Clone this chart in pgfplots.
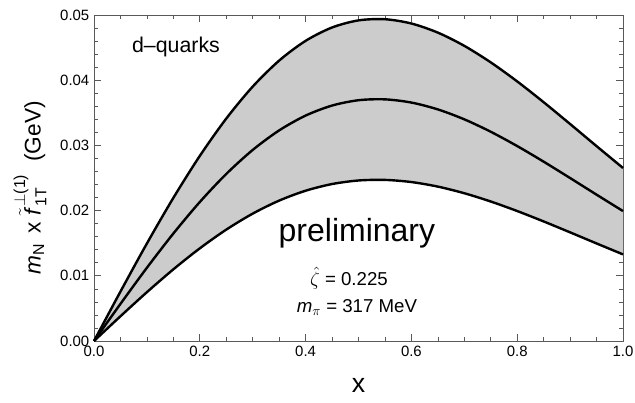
\documentclass[border=0pt]{standalone}
\usepackage{amsmath}
\usepackage{fontspec}
\setmainfont{Liberation Sans}
\usepackage{pgfplots}
\usepackage{pgfplotstable}
\pgfplotsset{compat=1.18}
\usepgfplotslibrary{fillbetween}

% x, lower, central, upper band
\pgfplotstableread{
x     low      mid      up
0.00  0.000000 0.000000 0.000000
0.05  0.003793 0.005690 0.007577
0.10  0.007488 0.011232 0.014956
0.15  0.010990 0.016484 0.021950
0.20  0.014212 0.021317 0.028386
0.25  0.017080 0.025620 0.034115
0.30  0.019535 0.029302 0.039018
0.35  0.021532 0.032299 0.043008
0.40  0.023048 0.034573 0.046036
0.45  0.024074 0.036111 0.048085
0.50  0.024619 0.036929 0.049174
0.55  0.024708 0.037062 0.049352
0.60  0.024379 0.036569 0.048694
0.65  0.023680 0.035519 0.047297
0.70  0.022664 0.033997 0.045269
0.75  0.021395 0.032092 0.042733
0.80  0.019932 0.029897 0.039811
0.85  0.018336 0.027504 0.036623
0.90  0.016662 0.024993 0.033280
0.95  0.014963 0.022445 0.029888
1.00  0.013284 0.019926 0.026533
}\band

\begin{document}
\begin{tikzpicture}
\begin{axis}[
name=ax,
scale only axis,
width=396.75pt, height=244.5pt,
xmin=0, xmax=1, ymin=0, ymax=0.05,
xtick={0,0.2,...,1.0},
ytick={0,0.01,...,0.05},
minor x tick num=3,
minor y tick num=4,
tick align=inside,
major tick length=5pt,
minor tick length=3pt,
axis line style={black!65, line width=0.6pt},
every tick/.style={black!65, line width=0.5pt},
scaled y ticks=false,
xticklabel style={/pgf/number format/.cd, fixed, fixed zerofill, precision=1},
yticklabel style={/pgf/number format/.cd, fixed, fixed zerofill, precision=2},
/pgf/number format/assume math mode=true,
tick label style={font=\fontsize{11.2}{13}\selectfont},
xlabel={x},
xlabel style={font=\fontsize{20}{22}\selectfont, at={(axis description cs:0.5,-0.135)}, anchor=center},
ylabel={$\textit{m}_{\text{N}}\,\text{ x }\tilde{\textit{f}}^{\,\perp\text{(1)}}_{\,\text{1T}}$\ \ (GeV)},
ylabel style={font=\fontsize{17}{20}\selectfont, at={(axis description cs:-0.121,0.47)}, anchor=center},
clip=false,
]
\addplot[draw=none, name path=up, smooth] table[x=x, y=up] {\band};
\addplot[draw=none, name path=low, smooth] table[x=x, y=low] {\band};
\addplot[black!20] fill between[of=up and low];
\addplot[black, line width=1.8pt, smooth] table[x=x, y=up] {\band};
\addplot[black, line width=1.8pt, smooth] table[x=x, y=mid] {\band};
\addplot[black, line width=1.8pt, smooth] table[x=x, y=low] {\band};

\node[font=\fontsize{16}{18}\selectfont] at (axis cs:0.155,0.0451) {d--quarks};
\node[font=\fontsize{24}{28}\selectfont] at (axis cs:0.497,0.0166) {preliminary};
\node[font=\fontsize{14}{16}\selectfont] at (axis cs:0.482,0.0097) {$\hat{\zeta}$ = 0.225};
\node[font=\fontsize{14}{16}\selectfont] at (axis cs:0.497,0.0052) {\textit{m}$_{\pi}$ = 317 MeV};
\end{axis}
\pgfresetboundingbox
\path ([xshift=-70.5pt, yshift=-46.5pt]ax.south west) rectangle ([xshift=9pt, yshift=11.25pt]ax.north east);
\end{tikzpicture}
\end{document}
